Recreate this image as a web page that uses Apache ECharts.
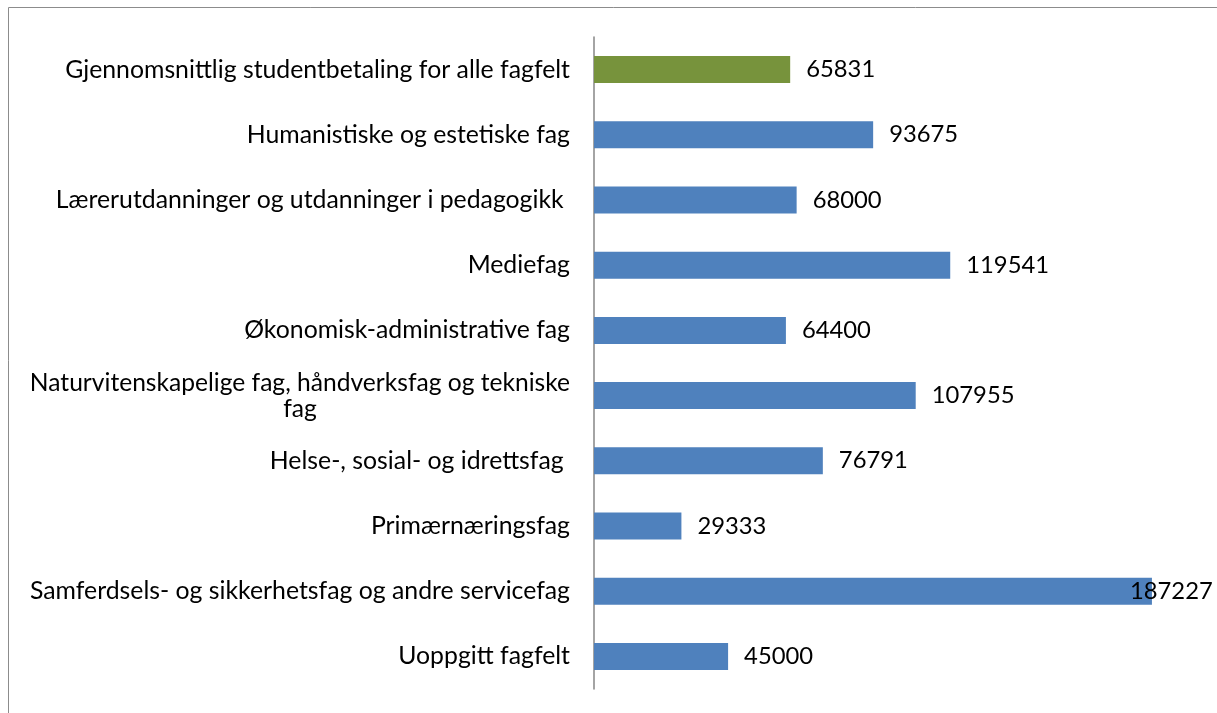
<!DOCTYPE html>
<html>
<head>
<meta charset="utf-8">
<script src="https://cdn.jsdelivr.net/npm/echarts@6/dist/echarts.min.js"></script>
<style>
html,body{margin:0;padding:0;background:#fff;}
#chart{width:1217px;height:713px;}
</style>
</head>
<body>
<div id="chart"></div>
<script>
//kategorier, ovenfra og ned
var categories = [
    'Gjennomsnittlig studentbetaling for alle fagfelt',
    'Humanistiske og estetiske fag',
    'Lærerutdanninger og utdanninger i pedagogikk ',
    'Mediefag',
    'Økonomisk-administrative fag',
    'Naturvitenskapelige fag, håndverksfag og tekniske fag',
    'Helse-, sosial- og idrettsfag ',
    'Primærnæringsfag',
    'Samferdsels- og sikkerhetsfag og andre servicefag',
    'Uoppgitt fagfelt'
];
var values = [65831, 93675, 68000, 119541, 64400, 107955, 76791, 29333, 187227, 45000];

var FONT = 'Lato';
var chart = echarts.init(document.getElementById('chart'));

var seriesData = [];
for (var i = 0; i < values.length; i++) {
    var d = {value: values[i]};
    if (i == 0) d.itemStyle = {color: '#77933c'};
    // siste verdi får ikke plass, Excel trekker den inn over stolpen
    if (values[i] > 180000) d.label = {offset: [-38, 0]};
    seriesData.push(d);
}

chart.setOption({
    animation: false,
    grid: {left: 594, top: 37, right: 27, bottom: 24, containLabel: false},
    graphic: [{
        type: 'rect',
        shape: {x: 8.5, y: 7.5, width: 1400, height: 900},
        style: {fill: 'none', stroke: '#8c8c8c', lineWidth: 1},
        silent: true
    }],
    xAxis: {
        type: 'value', min: 0, max: 200000, show: false
    },
    yAxis: {
        type: 'category',
        inverse: true,
        data: categories,
        axisLine: {lineStyle: {color: '#868686', width: 1.5}},
        axisTick: {show: false},
        axisLabel: {
            margin: 24,
            color: '#000',
            fontFamily: FONT,
            fontSize: 24.8,
            lineHeight: 26,
            formatter: function (v) {
                if (v.length > 50) {
                    var k = v.lastIndexOf(' ');
                    return '{c|' + v.slice(0, k) + '}\n{c|' + v.slice(k + 1) + '}';
                }
                return v;
            },
            rich: {
                c: {fontFamily: FONT, fontSize: 24.6, lineHeight: 26, color: '#000', align: 'center'}
            }
        }
    },
    series: [{
        type: 'bar',
        data: seriesData,
        barWidth: 27,
        itemStyle: {color: '#4f81bd'},
        label: {
            show: true,
            position: 'right',
            distance: 16,
            color: '#000',
            fontFamily: FONT,
            fontSize: 23.8
        }
    }]
});
</script>
</body>
</html>
